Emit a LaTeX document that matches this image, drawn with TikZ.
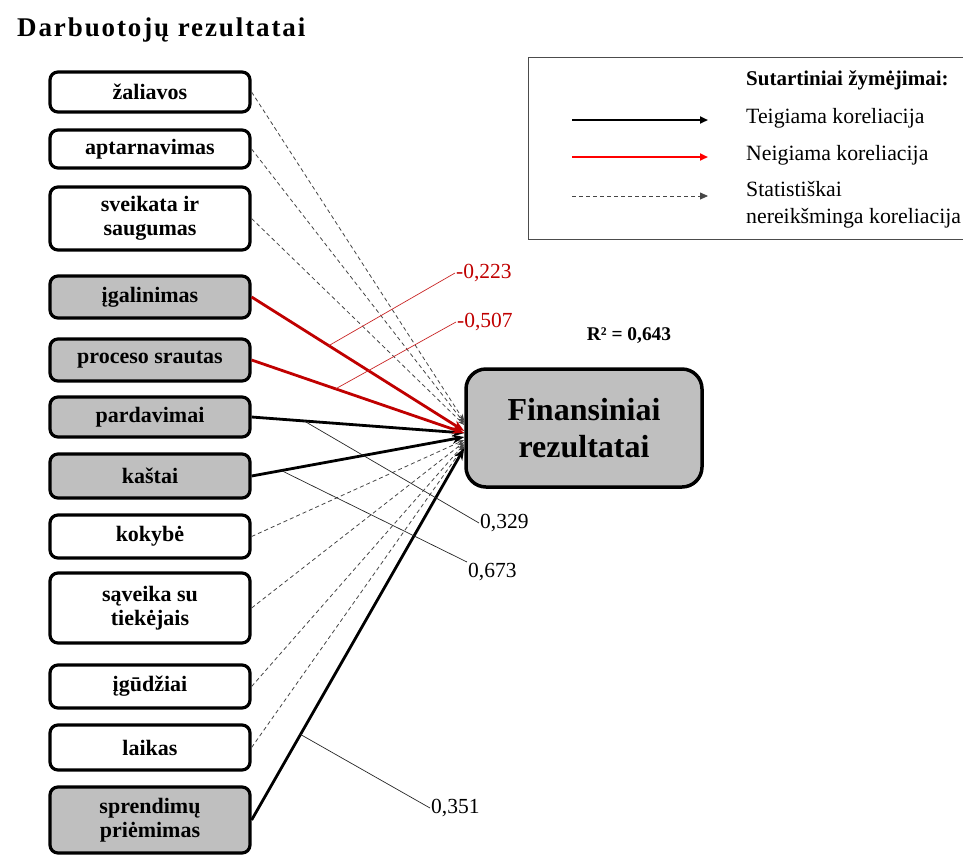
\documentclass[tikz,border=0pt]{standalone}
\usepackage{fontspec}
\setmainfont{Liberation Serif}
\usetikzlibrary{arrows.meta,calc}
\definecolor{boxgray}{RGB}{191,191,191}
\definecolor{darkred}{RGB}{192,0,0}
\definecolor{brightred}{RGB}{255,0,0}
\definecolor{nsgray}{RGB}{70,70,70}
\begin{document}
\begin{tikzpicture}[x=1pt,y=-1pt,
  factor/.style={draw, line width=3.2pt, rounded corners=8pt, minimum width=200pt,
    align=center, inner sep=2pt, font=\bfseries\fontsize{22}{24}\selectfont},
  sigfactor/.style={factor, fill=boxgray},
  poslink/.style={line width=2.8pt, draw=black, -{Stealth[length=12pt,width=9pt]}},
  neglink/.style={poslink, draw=darkred, -{Stealth[length=12pt,width=9pt]}},
  nslink/.style={line width=0.8pt, draw=nsgray, dash pattern=on 4pt off 3pt,
    -{Stealth[length=7pt,width=5pt]}},
  leader/.style={line width=0.7pt, draw=black!85},
  redleader/.style={line width=0.7pt, draw=darkred!85},
  coef/.style={anchor=west, inner sep=1pt, font=\fontsize{21.5}{23}\selectfont},
  legtext/.style={anchor=west, inner sep=0pt, align=left, font=\fontsize{21.8}{27}\selectfont}
]
\useasboundingbox (0,0) rectangle (963,855);

% title
\node[anchor=west, inner sep=0pt, font=\bfseries\fontsize{27}{30}\selectfont\addfontfeature{LetterSpace=7}] (title) at (17,30) {Darbuotojų rezultatai};

% factor boxes
\node[factor, minimum height=40pt] (zal) at (150,92) {žaliavos};
\node[factor, minimum height=38pt] (apt) at (150,149) {aptarnavimas};
\node[factor, minimum height=63pt] (sve) at (150,218.5) {sveikata ir\\saugumas};
\node[sigfactor, minimum height=42pt] (iga) at (150,297) {įgalinimas};
\node[sigfactor, minimum height=42pt] (pro) at (150,360) {proceso srautas};
\node[sigfactor, minimum height=40pt] (par) at (150,417) {pardavimai};
\node[sigfactor, minimum height=44pt] (kas) at (150,476) {kaštai};
\node[factor, minimum height=43pt] (kok) at (150,536.5) {kokybė};
\node[factor, minimum height=70pt] (sav) at (150,608) {sąveika su\\tiekėjais};
\node[factor, minimum height=43pt] (igu) at (150,686.5) {įgūdžiai};
\node[factor, minimum height=45pt] (lai) at (150,747.5) {laikas};
\node[sigfactor, minimum height=66pt] (spr) at (150,820) {sprendimų\\priėmimas};

% outcome box
\node[draw, fill=boxgray, line width=3.5pt, rounded corners=20pt, minimum width=236pt,
  minimum height=118pt, align=center, font=\bfseries\fontsize{32}{37}\selectfont]
  (fin) at (584,428) {Finansiniai\\rezultatai};
\node[inner sep=0pt, font=\bfseries\fontsize{19.4}{21}\selectfont] (r2) at (629,336) {R² = 0,643};

% non-significant paths
\draw[nslink] (zal.east) -- ([yshift=7pt]fin.west);
\draw[nslink] (apt.east) -- ([yshift=5pt]fin.west);
\draw[nslink] (sve.east) -- ([yshift=3pt]fin.west);
\draw[nslink] (kok.east) -- ([yshift=-12pt]fin.west);
\draw[nslink] (sav.east) -- ([yshift=-14pt]fin.west);
\draw[nslink] (igu.east) -- ([yshift=-16pt]fin.west);
\draw[nslink] (lai.east) -- ([yshift=-18pt]fin.west);

% significant paths
\draw[poslink] (par.east) -- coordinate[pos=0.247] (cpar) ([yshift=-5pt]fin.west);
\draw[poslink] (kas.east) -- coordinate[pos=0.14] (ckas) ([yshift=-9pt]fin.west);
\draw[poslink] (spr.east) -- coordinate[pos=0.23] (cspr) ([yshift=-20pt]fin.west);
\draw[neglink] (iga.east) -- coordinate[pos=0.363] (ciga) ([yshift=-3pt]fin.west);
\draw[neglink] (pro.east) -- coordinate[pos=0.395] (cpro) ([yshift=-5pt]fin.west);

% coefficients
\node[coef, text=darkred] (l223) at (455,273) {-0,223};
\node[coef, text=darkred] (l507) at (456,322) {-0,507};
\node[coef] (l329) at (479,523) {0,329};
\node[coef] (l673) at (467,572) {0,673};
\node[coef] (l351) at (430,808) {0,351};
\draw[redleader] (ciga) -- (l223.west);
\draw[redleader] (cpro) -- (l507.west);
\draw[leader] (cpar) -- (l329.west);
\draw[leader] (ckas) -- (l673.north west);
\draw[leader] (cspr) -- (l351.west);

% legend
\draw[line width=1pt, draw=black!70] (528,57) rectangle (975,239);
\node[anchor=west, inner sep=0pt, font=\bfseries\fontsize{21}{23}\selectfont] (legtitle) at (746,80) {Sutartiniai žymėjimai:};
\coordinate (a1) at (572,120); \coordinate (b1) at (708,120);
\coordinate (a2) at (572,157); \coordinate (b2) at (708,157);
\coordinate (a3) at (572,196); \coordinate (b3) at (708,196);
\draw[line width=2.5pt, -{Triangle[length=8pt,width=7pt]}] (a1) -- (b1);
\draw[line width=2.5pt, draw=brightred, -{Triangle[length=8pt,width=7pt]}] (a2) -- (b2);
\draw[line width=0.8pt, nsgray, dash pattern=on 4pt off 3pt, -{Triangle[length=8pt,width=7pt]}] (a3) -- (b3);
\node[legtext] (t1) at (746,118) {Teigiama koreliacija};
\node[legtext] (t2) at (746,155) {Neigiama koreliacija};
\node[legtext] (t3) at (746,205) {Statistiškai\\nereikšminga koreliacija};
\end{tikzpicture}
\end{document}
